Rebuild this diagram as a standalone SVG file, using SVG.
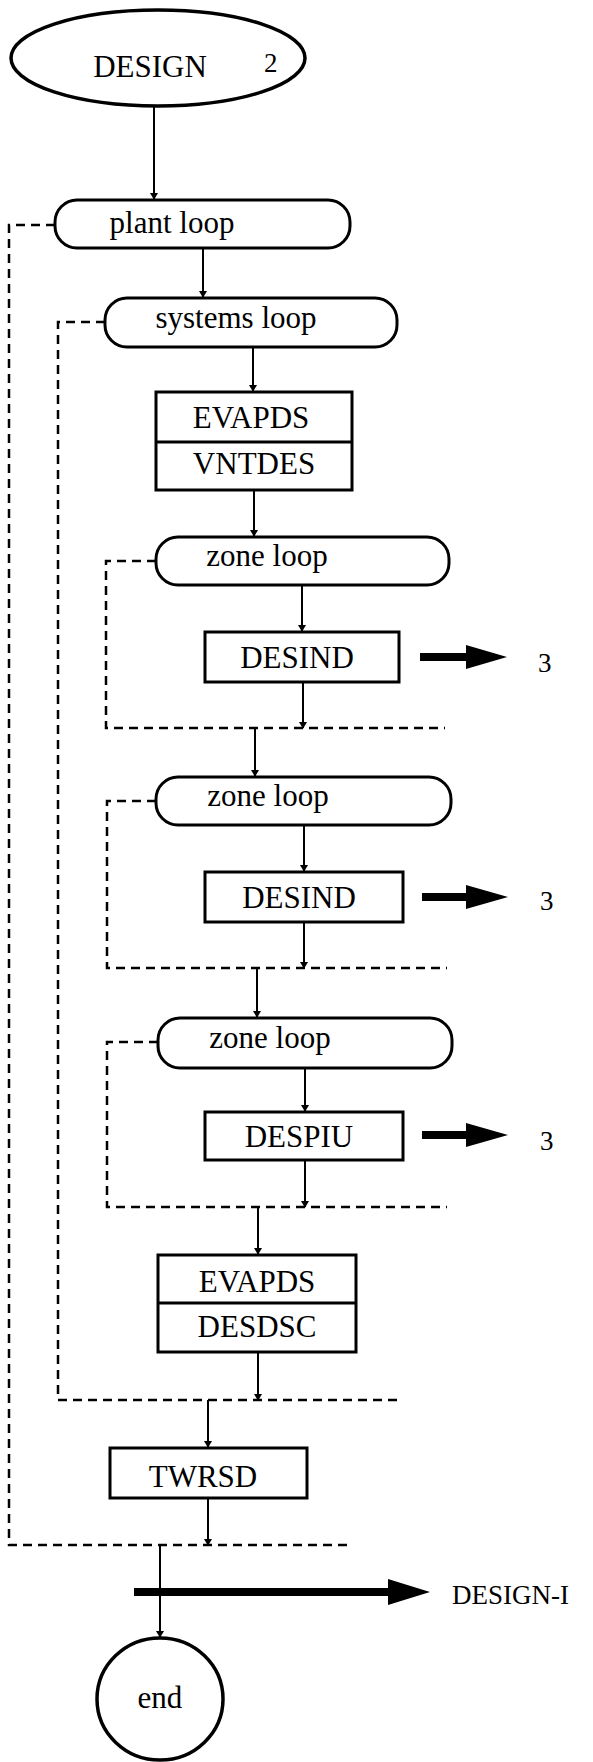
<svg xmlns="http://www.w3.org/2000/svg" width="593" height="1762" viewBox="0 0 593 1762">
<defs>
<marker id="ah" viewBox="0 0 10 14" refX="9" refY="7" markerWidth="7" markerHeight="10" markerUnits="userSpaceOnUse" orient="auto">
<path d="M0,1 L10,7 L0,13 Z" fill="#000"/>
</marker>
</defs>
<style>
.box{fill:#fff;stroke:#000;stroke-width:3}
.oval{fill:#fff;stroke:#000;stroke-width:3.5}
.t{font-family:"Liberation Serif","Times New Roman",serif;font-size:31px;fill:#000;text-anchor:middle}
.n{font-family:"Liberation Serif","Times New Roman",serif;font-size:27px;fill:#000}
.c{stroke:#000;stroke-width:2;fill:none;marker-end:url(#ah)}
.d{stroke:#000;stroke-width:2.5;fill:none;stroke-dasharray:9 6}
.fat{fill:#000}
</style>
<rect width="593" height="1762" fill="#fff"/>

<g id="loops">
<polyline class="d" points="55,225 9,225 9,1545 348,1545"/>
<polyline class="d" points="105,322 58,322 58,1400 403,1400"/>
<polyline class="d" points="156,561 106,561 106,728 445,728"/>
<polyline class="d" points="156,801 107,801 107,968 447,968"/>
<polyline class="d" points="158,1042 107,1042 107,1207 447,1207"/>
</g>

<g id="connectors">
<line class="c" x1="154" y1="107" x2="154" y2="199"/>
<line class="c" x1="203" y1="248" x2="203" y2="297"/>
<line class="c" x1="253" y1="347" x2="253" y2="391"/>
<line class="c" x1="254" y1="490" x2="254" y2="536"/>
<line class="c" x1="302" y1="585" x2="302" y2="631"/>
<line class="c" x1="303" y1="682" x2="303" y2="728"/>
<line class="c" x1="255" y1="728" x2="255" y2="776"/>
<line class="c" x1="304" y1="825" x2="304" y2="871"/>
<line class="c" x1="304" y1="922" x2="304" y2="968"/>
<line class="c" x1="257" y1="968" x2="257" y2="1017"/>
<line class="c" x1="305" y1="1068" x2="305" y2="1111"/>
<line class="c" x1="305" y1="1160" x2="305" y2="1207"/>
<line class="c" x1="258" y1="1207" x2="258" y2="1254"/>
<line class="c" x1="258" y1="1352" x2="258" y2="1400"/>
<line class="c" x1="208" y1="1400" x2="208" y2="1447"/>
<line class="c" x1="208" y1="1498" x2="208" y2="1545"/>
<line class="c" x1="160" y1="1545" x2="160" y2="1637"/>
<polygon class="fat" points="420,653 466,653 466,645 507,657 466,669 466,661 420,661"/>
<polygon class="fat" points="422,893 466,893 466,885 508,897 466,909 466,901 422,901"/>
<polygon class="fat" points="422,1131 466,1131 466,1123 508,1135 466,1147 466,1139 422,1139"/>
<polygon class="fat" points="134,1588 388,1588 388,1579 430,1592 388,1605 388,1596 134,1596"/>
</g>

<g id="design">
<ellipse class="oval" cx="158" cy="58" rx="147" ry="48"/>
<text class="t" x="150" y="77">DESIGN</text>
<text class="n" x="264" y="72" font-size="29">2</text>
</g>

<g id="plant-loop">
<rect class="box" x="55" y="200" width="295" height="48" rx="22"/>
<text class="t" x="172" y="233">plant loop</text>
</g>

<g id="systems-loop">
<rect class="box" x="105" y="298" width="292" height="49" rx="22"/>
<text class="t" x="236" y="328">systems loop</text>
</g>

<g id="evapds-vntdes">
<rect class="box" x="156" y="392" width="196" height="98"/>
<line x1="156" y1="442" x2="352" y2="442" stroke="#000" stroke-width="3"/>
<text class="t" x="251" y="428">EVAPDS</text>
<text class="t" x="254" y="474">VNTDES</text>
</g>

<g id="zone-loop-1">
<rect class="box" x="156" y="537" width="293" height="48" rx="22"/>
<text class="t" x="267" y="566">zone loop</text>
</g>

<g id="desind-1">
<rect class="box" x="205" y="632" width="194" height="50"/>
<text class="t" x="297" y="668">DESIND</text>
</g>
<text class="n" x="538" y="672">3</text>

<g id="zone-loop-2">
<rect class="box" x="156" y="777" width="295" height="48" rx="22"/>
<text class="t" x="268" y="806">zone loop</text>
</g>

<g id="desind-2">
<rect class="box" x="205" y="872" width="198" height="50"/>
<text class="t" x="299" y="908">DESIND</text>
</g>
<text class="n" x="540" y="910">3</text>

<g id="zone-loop-3">
<rect class="box" x="158" y="1018" width="294" height="50" rx="22"/>
<text class="t" x="270" y="1048">zone loop</text>
</g>

<g id="despiu">
<rect class="box" x="205" y="1112" width="198" height="48"/>
<text class="t" x="299" y="1147">DESPIU</text>
</g>
<text class="n" x="540" y="1150">3</text>

<g id="evapds-desdsc">
<rect class="box" x="158" y="1255" width="198" height="97"/>
<line x1="158" y1="1303" x2="356" y2="1303" stroke="#000" stroke-width="3"/>
<text class="t" x="257" y="1292">EVAPDS</text>
<text class="t" x="257" y="1337">DESDSC</text>
</g>

<g id="twrsd">
<rect class="box" x="110" y="1448" width="197" height="50"/>
<text class="t" x="203" y="1487">TWRSD</text>
</g>

<text class="n" x="452" y="1604" font-size="30">DESIGN-I</text>

<g id="end">
<ellipse class="oval" cx="160" cy="1699" rx="63" ry="61"/>
<text class="t" x="160" y="1708" font-size="30">end</text>
</g>
</svg>
